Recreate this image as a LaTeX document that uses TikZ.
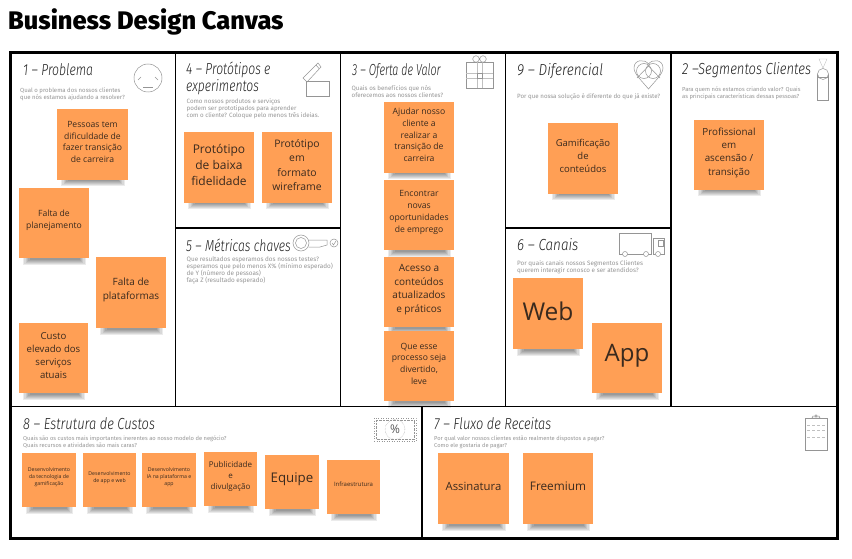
\documentclass[tikz,border=0pt]{standalone}
\usepackage{graphicx}
\usepackage{fontspec}
\setmainfont{Open Sans}
\newfontfamily\headfont{Fira Sans Light}[ItalicFont={Fira Sans Light Italic}]
\newfontfamily\hintfont{Fira Sans}
\newfontfamily\titlefont{Fira Sans ExtraBold}
\definecolor{notefill}{HTML}{FF9F55}
\definecolor{notetext}{HTML}{3A2A1E}
\definecolor{hint}{HTML}{959595}
\definecolor{iconline}{HTML}{959595}
\tikzset{
  grid line/.style={line width=1.6pt,black},
  head/.style={anchor=west,inner sep=0pt,font=\headfont\itshape\fontsize{16}{16.5}\selectfont,text=black!88,align=left},
  hinttext/.style={anchor=north west,inner sep=0pt,text=hint,align=left},
  icon/.style={iconline,line width=0.5pt},
  faint/.style={iconline!60,line width=0.35pt},
  notebox/.style={fill=notefill,inner sep=0pt},
  notelabel/.style={inner sep=0pt,align=center,text=notetext},
}
\newcommand{\hd}[2]{\scalebox{#1}[1]{#2}}
\newcommand{\hintsize}[1]{\hintfont\fontsize{#1}{7}\selectfont}
% \sticky{name}{x1}{y1}{x2}{y2}{font size}{text}
\newcommand{\sticky}[7]{%
  \foreach \g in {0,1,2,3,4,5}{%
    \fill[black,opacity=0.08] ({#2+4+\g*1.3},{#5-2}) rectangle ({#4-3-\g*1.3},{#5+6.5-\g});
  }
  \pgfmathsetmacro{\noteskip}{#6*1.36}%
  \node[notebox,minimum width={(#4-#2)*1pt},minimum height={(#5-#3)*1pt}] (#1) at ({(#2+#4)/2},{(#3+#5)/2}) {};
  \node[notelabel,font=\fontsize{#6}{\noteskip}\selectfont] (#1t) at ([yshift=2.5pt]#1.center) {#7};
}
\begin{document}
\begin{tikzpicture}[x=1pt,y=-1pt]
\useasboundingbox (0,0) rectangle (852,559);
\fill[white] (0,0) rectangle (852,559);
\node[anchor=west,inner sep=0pt,font=\titlefont\fontsize{25.4}{28}\selectfont] (title) at (8,21.5) {Business Design Canvas};
% grid
\draw[line width=3pt] (10.5,52.5) rectangle (837,538);
\draw[grid line] (175.5,53) -- (175.5,406.5);
\draw[grid line] (340.5,53) -- (340.5,406.5);
\draw[grid line] (505.5,53) -- (505.5,406.5);
\draw[grid line] (671,53) -- (671,406.5);
\draw[grid line] (10.5,406.5) -- (837,406.5);
\draw[grid line] (422,406.5) -- (422,538);
\draw[grid line] (175.5,228) -- (340.5,228);
\draw[grid line] (505.5,228) -- (671,228);
% headings
\node[head] (h1) at (23,70) {\hd{.765}{1 – Problema}};
\node[hinttext,font=\hintsize{6}] (t1) at (20,87.5) {Qual o problema dos nossos clientes\\que nós estamos ajudando a resolver?};
\node[head,anchor=north west] (h4) at (186,62) {\hd{.76}{4 – Protótipos e}\\\hd{.76}{experimentos}};
\node[hinttext,font=\hintsize{6.2}] (t4) at (186.5,98.5) {Como nossos produtos e serviços\\podem ser prototipados para aprender\\com o cliente? Coloque pelo menos três ideias.};
\node[head] (h3) at (352,71) {\hd{.67}{3 – Oferta de Valor}};
\node[hinttext,font=\hintsize{6.2}] (t3) at (351.5,85) {Quais os benefícios que nós\\oferecemos aos nossos clientes?};
\node[head] (h9) at (517,71) {\hd{.85}{9 – Diferencial}};
\node[hinttext,font=\hintsize{6.15}] (t9) at (517,93) {Por que nossa solução é diferente do que já existe?};
\node[head] (h2) at (682,70) {\hd{.815}{2 –Segmentos Clientes}};
\node[hinttext,font=\hintsize{5.8}] (t2) at (682,87) {Para quem nós estamos criando valor? Quais\\as principais características dessas pessoas?};
\node[head] (h5) at (186,245) {\hd{.76}{5 – Métricas chaves}};
\node[hinttext,font=\hintsize{6.35}] (t5) at (186.5,257) {Que resultados esperamos dos nossos testes?\\esperamos que pelo menos X\% (mínimo esperado)\\de Y (número de pessoas)\\faça Z (resultado esperado)};
\node[head] (h6) at (517,245) {\hd{.84}{6 – Canais}};
\node[hinttext,font=\hintsize{6.3}] (t6) at (517,260) {Por quais canais nossos Segmentos Clientes\\querem interagir conosco e ser atendidos?};
\node[head] (h8) at (23,424) {\hd{.805}{8 – Estrutura de Custos}};
\node[hinttext,font=\hintsize{5.75}] (t8) at (23,436) {Quais são os custos mais importantes inerentes ao nosso modelo de negócio?\\Quais recursos e atividades são mais caras?};
\node[head] (h7) at (434,424) {\hd{.8}{7 – Fluxo de Receitas}};
\node[hinttext,font=\hintsize{5.7}] (t7) at (434,436) {Por qual valor nossos clientes estão realmente dispostos a pagar?\\Como ele gostaria de pagar?};
% notes
\sticky{n1a}{57}{109}{128}{180}{8.6}{Pessoas tem\\dificuldade de\\fazer transição\\de carreira}
\sticky{n1b}{19}{188}{89}{258}{8.6}{Falta de\\planejamento}
\sticky{n1c}{96}{257}{166}{328}{10}{Falta de\\plataformas}
\sticky{n1d}{19}{323}{88}{393}{9.6}{Custo\\elevado dos\\serviços\\atuais}
\sticky{n4a}{184}{132}{254}{203}{12}{Protótipo\\de baixa\\fidelidade}
\sticky{n4b}{262}{132}{332}{203}{10.4}{Protótipo\\em\\formato\\wireframe}
\sticky{n3a}{384}{102}{454}{173}{8.6}{Ajudar nosso\\cliente a\\realizar a\\transição de\\carreira}
\sticky{n3b}{384}{180}{454}{250}{8.6}{Encontrar\\novas\\oportunidades\\de emprego}
\sticky{n3c}{384}{257}{454}{327}{10}{Acesso a\\conteúdos\\atualizados\\e práticos}
\sticky{n3d}{384}{331}{454}{401}{8.6}{Que esse\\processo seja\\divertido,\\leve}
\sticky{n9a}{548}{123}{618}{194}{9.5}{Gamificação\\de\\conteúdos}
\sticky{n2a}{694}{120}{764}{190}{9.8}{Profissional\\em\\ascensão /\\transição}
\sticky{n6a}{513}{278}{583}{349}{24.5}{Web}
\sticky{n6b}{592}{323}{662}{393}{24}{App}
\sticky{n8a}{22}{453}{76}{507}{5.2}{Desenvolvimento\\da tecnologia de\\gamificação}
\sticky{n8b}{83}{453}{136}{507}{5.2}{Desenvolvimento\\de app e web}
\sticky{n8c}{142}{453}{196}{507}{5.2}{Desenvolvimento\\IA na plataforma e\\app}
\sticky{n8d}{204}{452}{257}{506}{8}{Publicidade\\e\\divulgação}
\sticky{n8e}{265}{455}{319}{509}{13.3}{Equipe}
\sticky{n8f}{327}{460}{380}{514}{6}{Infraestrutura}
\sticky{n7a}{438}{453}{509}{524}{11.3}{Assinatura}
\sticky{n7b}{523}{453}{593}{524}{11.8}{Freemium}
% sad face
\draw[icon] (148,78) circle (14);
\draw[icon] (138,80) -- (141,77);
\draw[icon] (158,80) -- (155,77);
\draw[icon] (143,87) -- (153,87);
% box with pencil
\draw[icon] (306,81) rectangle (329,96);
\draw[icon] (303,78) -- (318,63) -- (321,67) -- (307,82) -- cycle;
\draw[icon] (316,65) -- (319,68.5);
% gift grid
\draw[icon] (466,62) rectangle (493,88);
\draw[faint] (466,73) -- (493,73) (466,78) -- (493,78) (477,62) -- (477,88) (482,62) -- (482,88);
\draw[icon] (477,73) rectangle (482,78);
\draw[icon] (476,59) circle (3.3) (483,59) circle (3.3);
% heart venn
\draw[icon] (634,68) .. controls (634,59) and (645,59) .. (648.5,64) .. controls (652,59) and (663,59) .. (663,68) .. controls (663,74) and (655,81) .. (648.5,89) .. controls (642,81) and (634,74) .. (634,68) -- cycle;
\draw[icon] (644,71) circle (7.5) (653,71) circle (7.5);
\draw[icon] (637,78) -- (648.5,66) -- (660,78);
% person
\draw[faint] (819,59) -- (827,59) -- (823,68) -- cycle;
\draw[icon] (817,74) rectangle (828,100);
\draw[icon,fill=white] (823,74) circle (5.5);
\draw[icon] (817.5,77) -- (828.5,77);
% key
\draw[icon] (301,243) circle (8);
\draw[icon] (301,243) circle (5.5);
\draw[icon] (308.5,240) -- (327,240) -- (327,245) -- (320,247) -- (308.5,247);
\draw[icon] (334,243) circle (4);
\draw[icon] (332,243) -- (333.5,245) -- (336,241);
% truck
\draw[icon] (619,233) rectangle (651,254);
\draw[icon] (653,238) rectangle (664,254);
\draw[icon] (658,240) rectangle (663,246);
\draw[icon,fill=white] (625,254) circle (2.5) (646,254) circle (2.5) (658,254) circle (2.5);
% percent
\draw[iconline,line width=0.5pt,dotted] (374.5,418) rectangle (416,441);
\draw[iconline,line width=0.4pt,densely dotted] (376,420) rectangle (414.5,439);
\draw[iconline,line width=0.4pt,densely dotted] (395,429.5) circle (10);
\node[font=\fontsize{12}{14}\selectfont,text=black!65,inner sep=0pt] (pct) at (395,429.5) {\%};
% clipboard
\draw[icon] (805,418) rectangle (827,450);
\draw[icon] (812,418) -- (813,416) -- (819,416) -- (820,418) -- cycle;
\draw[icon] (816,416) circle (1.3);
\draw[faint,densely dashed] (807,425) -- (825,425) (807,430) -- (825,430) (807,437) -- (825,437);
\end{tikzpicture}
\end{document}
